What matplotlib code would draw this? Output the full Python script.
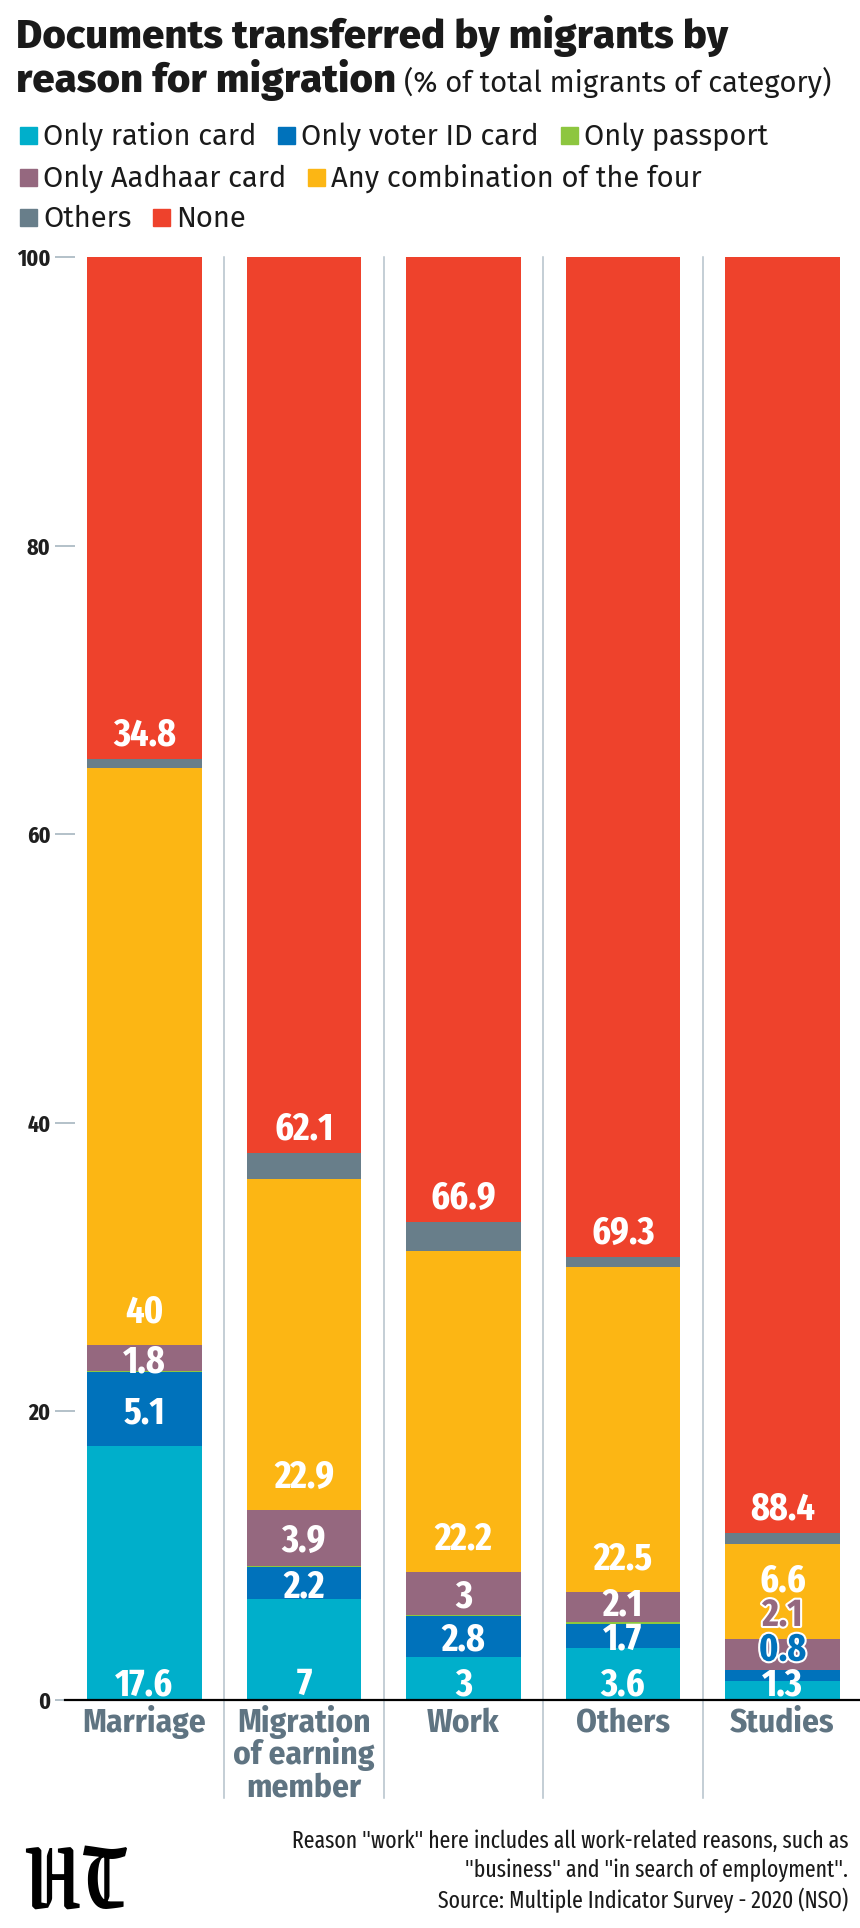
import matplotlib
matplotlib.use("Agg")
import matplotlib.pyplot as plt
import matplotlib.patheffects as pe
from matplotlib.patches import Rectangle
import numpy as np

plt.rcParams['font.family'] = ['Fira Sans Extra Condensed', 'Liberation Sans Narrow', 'DejaVu Sans']
WIDE = ['Fira Sans', 'Liberation Sans', 'DejaVu Sans']
COND = ['Fira Sans Condensed', 'Liberation Sans Narrow', 'DejaVu Sans']

# data (% of migrants of each category), bottom to top of each bar
categories = ["Marriage", "Migration\nof earning\nmember", "Work", "Others", "Studies"]
ration = [17.6, 7, 3, 3.6, 1.3]
voter = [5.1, 2.2, 2.8, 1.7, 0.8]
passport = [0.1, 0.1, 0.1, 0.1, 0.0]
aadhaar = [1.8, 3.9, 3, 2.1, 2.1]
combo = [40, 22.9, 22.2, 22.5, 6.6]
others = [0.6, 1.8, 2.0, 0.7, 0.8]
none = [34.8, 62.1, 66.9, 69.3, 88.4]

series = [ration, voter, passport, aadhaar, combo, others, none]
names = ["Only ration card", "Only voter ID card", "Only passport", "Only Aadhaar card",
         "Any combination of the four", "Others", "None"]
colors = ["#00afcb", "#0072bb", "#8dc63f", "#95687f", "#fcb614", "#687e8a", "#ee422c"]
colmap = dict(zip(names, colors))

W, H = 860, 1928
fig = plt.figure(figsize=(W / 100, H / 100), dpi=100)


def fx(x):
    return x / W


def fy(y):
    return 1 - y / H


ax = fig.add_axes([fx(65), fy(1700), (W - 65) / W, (1700 - 257) / H])
x = np.arange(len(categories))
bottom = np.zeros(len(categories))
bottoms = []
for vals, col in zip(series, colors):
    ax.bar(x, vals, 0.72, bottom=bottom, color=col, linewidth=0, zorder=2)
    bottoms.append(bottom.copy())
    bottom += np.array(vals)

ax.set_xlim(-0.498, 4.486)
ax.set_ylim(0, 100)
ax.set_xticks([])
ax.set_yticks([0, 20, 40, 60, 80, 100])
ax.tick_params(axis='y', length=13.7, width=1.1, color='#9fb0bb', direction='inout',
               pad=3.5, labelsize=17, labelcolor='#1f1f1f')
for t in ax.get_yticklabels():
    t.set_fontweight('bold')
for s in ['left', 'top', 'right']:
    ax.spines[s].set_visible(False)
ax.spines['bottom'].set_color('black')
ax.spines['bottom'].set_linewidth(1.6)
ax.spines['bottom'].set_zorder(4)

# separators between bars
for sx in [0.5, 1.5, 2.5, 3.5]:
    ax.plot([sx, sx], [100, -6.8], color='#b4c1ca', lw=1.1, clip_on=False, zorder=1)

# category names, one line at a time
for i, cat in enumerate(categories):
    for j, line in enumerate(cat.split("\n")):
        ax.text(i, -2.2 - j * 2.25, line, ha='center', va='baseline', fontsize=24,
                fontweight='bold', color='#5f7482', family=COND)

# value labels
half_cap = 0.97
for i in range(len(categories)):
    prev = -10
    for k in [0, 1, 3, 4, 6]:
        v = series[k][i]
        b = bottoms[k][i]
        if k == 0:
            c = 1.3
        elif k in (1, 3):
            c = b + v / 2
        elif k == 4:
            c = b + 2.5
        else:
            c = b + 1.9
        c = max(c, prev + 2.4)
        prev = c
        if k in (1, 3) and c > b + v:
            ax.text(i, c - half_cap, f"{v:g}", ha='center', va='baseline', fontsize=28,
                    fontweight='bold', color=colors[k], zorder=5,
                    path_effects=[pe.withStroke(linewidth=3, foreground='white')])
        else:
            ax.text(i, c - half_cap, f"{v:g}", ha='center', va='baseline', fontsize=28,
                    fontweight='bold', color='white', zorder=5)

# title
fig.text(fx(16), fy(48), "Documents transferred by migrants by", fontsize=29,
         fontweight=800, color='#1a1a1a', va='baseline', family=WIDE)
t2 = fig.text(fx(16), fy(92), "reason for migration", fontsize=29,
              fontweight=800, color='#1a1a1a', va='baseline', family=WIDE)
fig.canvas.draw()
r = fig.canvas.get_renderer()
bb = t2.get_window_extent(r)
fig.text(fx(bb.x1 + 8), fy(92), "(% of total migrants of category)", fontsize=21,
         color='#1a1a1a', va='baseline', family=WIDE)

# legend
legend_rows = [["Only ration card", "Only voter ID card", "Only passport"],
               ["Only Aadhaar card", "Any combination of the four"],
               ["Others", "None"]]
row_base = [145, 187, 227]
for row, yb in zip(legend_rows, row_base):
    xp = 20
    for name in row:
        fig.patches.append(Rectangle((fx(xp), fy(yb - 1)), 17 / W, 17 / H,
                                     transform=fig.transFigure, color=colmap[name]))
        t = fig.text(fx(xp + 23), fy(yb), name, fontsize=21, color='#1a1a1a',
                     va='baseline', family=WIDE)
        fig.canvas.draw()
        xp = t.get_window_extent(r).x1 + 22

# footer
foot = ['Reason "work" here includes all work-related reasons, such as',
        '"business" and "in search of employment".',
        'Source: Multiple Indicator Survey - 2020 (NSO)']
for line, yb in zip(foot, [1848, 1877, 1908]):
    fig.text(fx(848), fy(yb), line, fontsize=17, color='#1a1a1a', ha='right', va='baseline')

fig.text(fx(22), fy(1908), "HT", family=['Grenze Gotisch', 'DejaVu Serif'], fontsize=72,
         fontweight=900, color='black', va='baseline')

fig.savefig("out.png", dpi=100)
